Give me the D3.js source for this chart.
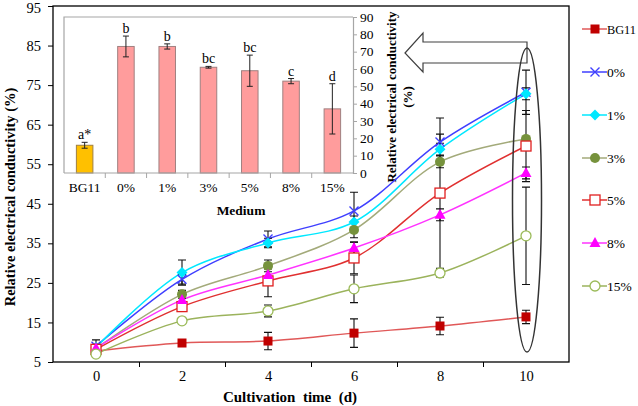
<!DOCTYPE html>
<html><head><meta charset="utf-8">
<script src="https://cdn.jsdelivr.net/npm/d3@7"></script>
<style>body{margin:0;background:#fff}svg{display:block;font-family:"Liberation Serif","Times New Roman",serif}</style>
</head><body><svg id="c" width="638" height="406"></svg>
<script>
// ---- data ----
const days = [0, 2, 4, 6, 8, 10];
const seriesNames = ["BG11", "0%", "1%", "3%", "5%", "8%", "15%"];
const valBG11 = [7.8, 9.8, 10.3, 12.3, 14.1, 16.4];
const val0 = [9.0, 25.9, 36.1, 43.2, 60.6, 73.2];
const val1 = [8.7, 27.6, 35.1, 40.4, 58.8, 72.8];
const val3 = [8.4, 22.1, 29.3, 38.4, 55.6, 61.4];
const val5 = [8.2, 19.0, 25.5, 31.3, 47.7, 59.6];
const val8 = [8.5, 20.7, 27.0, 33.8, 42.2, 52.8];
const val15 = [7.0, 15.4, 17.9, 23.5, 27.5, 36.9];
const errBG11 = [0.5, 0.8, 2.2, 3.6, 2.2, 1.7];
const err0 = [1.6, 1.2, 2.0, 4.7, 2.0, 5.6];
const err1 = [0.8, 3.2, 1.2, 1.5, 1.5, 1.5];
const err3 = [0.6, 1.0, 1.5, 2.0, 1.5, 0.5];
const err5 = [0.6, 1.0, 4.0, 4.0, 19.0, 9.0];
const err8 = [0.5, 1.0, 1.5, 1.5, 1.5, 1.5];
const err15 = [0.6, 0.8, 1.5, 3.5, 1.0, 12.3];
const yTicks = [5, 15, 25, 35, 45, 55, 65, 75, 85, 95];
// inset bars (day 10)
const barCats = ["BG11", "0%", "1%", "3%", "5%", "8%", "15%"];
const barVals = [16, 73, 73, 61, 59, 53, 37];
const barErrs = [1.7, 6, 1.5, 0.5, 9, 1.5, 14.5];
const barLetters = ["a*", "b", "b", "bc", "bc", "c", "d"];
const insetTicks = [0, 10, 20, 30, 40, 50, 60, 70, 80, 90];

const values = [valBG11, val0, val1, val3, val5, val8, val15];
const errors = [errBG11, err0, err1, err3, err5, err8, err15];
const styles = [
  {line: "#E05858", mk: "sqf", c: "#C00000"},
  {line: "#3F3FFF", mk: "x", c: "#3F3FFF"},
  {line: "#00E8FF", mk: "dia", c: "#00E8FF"},
  {line: "#A3AA7A", mk: "cirf", c: "#76923C"},
  {line: "#E03030", mk: "sqo", c: "#E02020"},
  {line: "#FF33FF", mk: "tri", c: "#FF00FF"},
  {line: "#9BB35C", mk: "ciro", c: "#9BBB59"}
];

const svg = d3.select("#c");
const x = d3.scaleLinear().domain([-1, 11]).range([53, 569]);
const y = d3.scaleLinear().domain([5, 95]).range([362, 6]);

// ---- inset ----
const ix = d3.scaleBand().domain(barCats).range([64, 353]).paddingInner(0.6).paddingOuter(0.3);
const iy = d3.scaleLinear().domain([0, 90]).range([173, 17]);
const inset = svg.append("g");
inset.append("path").attr("d", `M64,173V17H353`).attr("fill", "none").attr("stroke", "#A6A6A6").attr("stroke-width", 1.2);
inset.selectAll("rect.bar").data(barCats).join("rect")
  .attr("x", d => ix(d)).attr("width", ix.bandwidth())
  .attr("y", (d, i) => iy(barVals[i])).attr("height", (d, i) => iy(0) - iy(barVals[i]))
  .attr("fill", (d, i) => i === 0 ? "#FFC000" : "#FF9C9C")
  .attr("stroke", (d, i) => i === 0 ? "#A08040" : "#A08080").attr("stroke-width", 1);
barCats.forEach((d, i) => {
  const cx = ix(d) + ix.bandwidth() / 2;
  const t = iy(barVals[i] + barErrs[i]), b = iy(barVals[i] - barErrs[i]);
  inset.append("path").attr("d", `M${cx},${t}V${b}M${cx-3},${t}H${cx+3}M${cx-3},${b}H${cx+3}`)
    .attr("stroke", "#222").attr("stroke-width", 1).attr("fill", "none");
  inset.append("text").attr("x", cx).attr("y", t - 3).attr("text-anchor", "middle")
    .attr("font-size", 14).text(barLetters[i]);
  inset.append("text").attr("x", cx).attr("y", 192).attr("text-anchor", "middle")
    .attr("font-size", 13.5).text(d);
});
// inset x baseline & ticks between categories
inset.append("line").attr("x1", 64).attr("x2", 353).attr("y1", 173).attr("y2", 173).attr("stroke", "#A6A6A6").attr("stroke-width", 1.2);
barCats.slice(1).forEach((d, i) => {
  const tx = 64 + (i + 1) * ix.step();
  inset.append("line").attr("x1", tx).attr("x2", tx).attr("y1", 173).attr("y2", 178).attr("stroke", "#A6A6A6");
});
const ra = inset.append("g").attr("transform", "translate(353,0)")
  .call(d3.axisRight(iy).tickValues(insetTicks).tickSize(4).tickPadding(3));
ra.select(".domain").attr("stroke", "#A6A6A6").attr("stroke-width", 1.2);
ra.selectAll(".tick line").attr("stroke", "#A6A6A6");
ra.selectAll("text").attr("font-size", 13.5).attr("font-family", "Liberation Serif").attr("fill", "#000");
inset.append("text").attr("x", 241).attr("y", 215).attr("text-anchor", "middle")
  .attr("font-size", 13.5).attr("font-weight", "bold").text("Medium");
const rt = inset.append("text").attr("transform", "translate(392,97) rotate(-90)").attr("text-anchor", "middle")
  .attr("font-size", 13).attr("font-weight", "bold");
rt.append("tspan").attr("x", 0).attr("dy", 4).text("Relative electrical conductivity");
rt.append("tspan").attr("x", 0).attr("dy", 16).text("(%)");

// ---- arrow ----
svg.append("path").attr("d", "M405,53L423,33V42H527V63H423V72Z")
  .attr("fill", "#fff").attr("stroke", "#404040").attr("stroke-width", 1.2);

// ---- main frame & axes ----
svg.append("rect").attr("x", 53).attr("y", 6).attr("width", 516).attr("height", 356)
  .attr("fill", "none").attr("stroke", "#000").attr("stroke-width", 1.3);
const ya = svg.append("g").attr("transform", "translate(53,0)")
  .call(d3.axisLeft(y).tickValues(yTicks).tickSize(5).tickPadding(7));
ya.select(".domain").remove();
ya.selectAll("text").attr("font-size", 14.5).attr("font-family", "Liberation Serif").attr("fill", "#000");
ya.selectAll(".tick").filter(d => d === 95).select("text").attr("dy", "0.45em");
const xa = svg.append("g").attr("transform", "translate(0,362)")
  .call(d3.axisBottom(x).tickValues(days).tickSize(0).tickPadding(9));
xa.select(".domain").remove();
xa.selectAll("text").attr("font-size", 14.5).attr("font-family", "Liberation Serif").attr("fill", "#000");
const xm = svg.append("g").attr("transform", "translate(0,362)")
  .call(d3.axisBottom(x).tickValues([1, 3, 5, 7, 9]).tickSize(5).tickFormat(""));
xm.select(".domain").remove();
svg.append("text").attr("x", 290).attr("y", 402).attr("text-anchor", "middle")
  .attr("font-size", 15).attr("font-weight", "bold").attr("xml:space", "preserve").text("Cultivation  time  (d)");
svg.append("text").attr("transform", "translate(15,197) rotate(-90)").attr("text-anchor", "middle")
  .attr("font-size", 14.5).attr("font-weight", "bold").text("Relative electrical conductivity  (%)");

// ---- lines ----
const line = d3.line().x((d, i) => x(days[i])).y(d => y(d)).curve(d3.curveCatmullRom.alpha(0.5));
values.forEach((vals, s) => {
  svg.append("path").attr("d", line(vals)).attr("fill", "none")
    .attr("stroke", styles[s].line).attr("stroke-width", 1.5);
});
// error bars
values.forEach((vals, s) => {
  vals.forEach((v, i) => {
    const cx = x(days[i]), t = y(v + errors[s][i]), b = y(v - errors[s][i]);
    svg.append("path").attr("d", `M${cx},${t}V${b}M${cx-4},${t}H${cx+4}M${cx-4},${b}H${cx+4}`)
      .attr("stroke", "#111").attr("stroke-width", 1.1).attr("fill", "none");
  });
});
function marker(g, type, c, cx, cy) {
  if (type === "sqf") g.append("rect").attr("x", cx - 4.5).attr("y", cy - 4.5).attr("width", 9).attr("height", 9).attr("fill", c);
  else if (type === "sqo") g.append("rect").attr("x", cx - 5).attr("y", cy - 5).attr("width", 10).attr("height", 10).attr("fill", "#fff").attr("stroke", c).attr("stroke-width", 1.3);
  else if (type === "x") g.append("path").attr("d", `M${cx-4.5},${cy-4.5}L${cx+4.5},${cy+4.5}M${cx-4.5},${cy+4.5}L${cx+4.5},${cy-4.5}`).attr("stroke", c).attr("stroke-width", 1.4);
  else if (type === "dia") g.append("path").attr("d", `M${cx},${cy-5.5}L${cx+5.5},${cy}L${cx},${cy+5.5}L${cx-5.5},${cy}Z`).attr("fill", c);
  else if (type === "cirf") g.append("circle").attr("cx", cx).attr("cy", cy).attr("r", 5).attr("fill", c);
  else if (type === "ciro") g.append("circle").attr("cx", cx).attr("cy", cy).attr("r", 5).attr("fill", "#fff").attr("stroke", c).attr("stroke-width", 1.3);
  else if (type === "tri") g.append("path").attr("d", `M${cx},${cy-6}L${cx+5.5},${cy+4}L${cx-5.5},${cy+4}Z`).attr("fill", c);
}
values.forEach((vals, s) => {
  const g = svg.append("g");
  vals.forEach((v, i) => marker(g, styles[s].mk, styles[s].c, x(days[i]), y(v)));
});
// ellipse
svg.append("ellipse").attr("cx", 527).attr("cy", 200).attr("rx", 14.5).attr("ry", 152)
  .attr("fill", "none").attr("stroke", "#333").attr("stroke-width", 1.5);

// ---- legend ----
const legY = [29, 72, 115, 158, 200, 243, 286];
seriesNames.forEach((n, s) => {
  const g = svg.append("g");
  g.append("line").attr("x1", 582).attr("x2", 607).attr("y1", legY[s]).attr("y2", legY[s])
    .attr("stroke", styles[s].line).attr("stroke-width", 1.5);
  marker(g, styles[s].mk, styles[s].c, 595, legY[s]);
  const t = g.append("text").attr("x", 607).attr("y", legY[s] + 5).attr("font-size", 13.5).text(n);
  if (n === "BG11") t.attr("textLength", 29).attr("lengthAdjust", "spacingAndGlyphs");
});
</script></body></html>
